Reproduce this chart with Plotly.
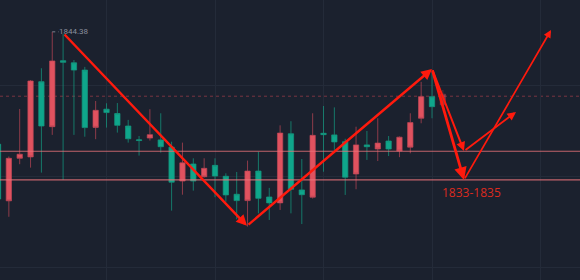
import plotly.graph_objects as go

# ---- candle data (index, OHLC) ----
idx = list(range(41))
opens = [1837.03, 1838.82, 1839.00, 1842.22, 1840.24, 1843.10, 1843.04, 1842.70, 1840.17, 1840.93,
         1840.83, 1840.27, 1839.68, 1839.60, 1839.86, 1839.33, 1837.77, 1838.62, 1837.82, 1838.38,
         1838.04, 1837.21, 1836.96, 1838.26, 1837.06, 1836.86, 1839.93, 1837.46, 1837.22, 1839.83,
         1839.86, 1839.54, 1837.99, 1839.41, 1839.33, 1839.49, 1839.23, 1839.75, 1840.39, 1841.53,
         1841.09]
highs = [1839.49, 1838.90, 1840.99, 1842.26, 1842.78, 1844.38, 1844.30, 1843.14, 1842.84, 1841.34,
         1841.24, 1841.25, 1840.51, 1839.80, 1840.98, 1840.80, 1839.55, 1839.51, 1838.82, 1838.82,
         1838.82, 1838.16, 1838.22, 1838.72, 1839.11, 1837.52, 1840.27, 1840.45, 1838.79, 1840.80,
         1841.12, 1841.06, 1839.68, 1840.21, 1840.02, 1840.58, 1839.80, 1839.78, 1840.80, 1842.18,
         1842.62]
lows = [1836.95, 1836.25, 1838.56, 1838.41, 1838.19, 1839.85, 1837.87, 1839.85, 1839.77, 1839.66,
        1840.17, 1839.95, 1839.51, 1838.94, 1839.60, 1839.07, 1836.52, 1837.22, 1837.40, 1837.97,
        1837.11, 1836.91, 1836.14, 1835.82, 1836.40, 1836.11, 1836.55, 1836.40, 1835.93, 1837.05,
        1838.23, 1839.19, 1837.21, 1837.46, 1838.75, 1838.70, 1838.92, 1838.87, 1839.04, 1840.36,
        1840.58]
closes = [1839.44, 1836.95, 1838.82, 1838.88, 1842.19, 1840.21, 1843.11, 1843.02, 1842.70, 1840.18,
          1840.98, 1840.79, 1840.24, 1839.63, 1839.71, 1839.63, 1839.31, 1837.82, 1838.57, 1838.01,
          1838.51, 1838.03, 1837.24, 1836.96, 1838.26, 1837.12, 1836.86, 1839.90, 1837.43, 1837.11,
          1839.92, 1839.85, 1839.55, 1838.13, 1839.41, 1839.23, 1839.58, 1839.14, 1839.31, 1840.58,
          1841.53]

# current (faded) candle
last_idx = [41]
last_open = [1841.64]
last_high = [1841.82]
last_low = [1841.03]
last_close = [1841.17]

# ---- levels ----
last_price = 1841.55
zone_levels = [1839.13, 1837.87]
high_label = "1844.38"
high_label_idx = 5
high_label_price = 1844.38

# ---- drawn arrows: (start idx, start price, end idx, end price, width) ----
arrow_x0 = [6.0, 22.95, 40.0, 40.0, 42.95, 42.95]
arrow_y0 = [1844.33, 1835.85, 1842.75, 1842.75, 1837.87, 1839.14]
arrow_x1 = [22.95, 40.0, 42.95, 42.95, 50.97, 47.74]
arrow_y1 = [1835.85, 1842.75, 1837.87, 1839.14, 1844.46, 1840.86]
arrow_w = [2.4, 2.4, 2.8, 2.0, 1.7, 1.9]

target_text = "1833-1835"
target_idx = 43.6
target_price = 1837.30

BG = "#1b212e"
GRID = "#242b39"
UP = "#0fa68b"
DOWN = "#e0525f"
UP_WICK = "rgba(20,150,125,0.75)"
DOWN_WICK = "rgba(190,70,85,0.7)"
ARROW = "#ff1a0d"

fig = go.Figure()
fig.add_trace(go.Candlestick(
    x=idx, open=opens, high=highs, low=lows, close=closes,
    increasing=dict(line=dict(color=UP_WICK, width=1), fillcolor=UP),
    decreasing=dict(line=dict(color=DOWN_WICK, width=1), fillcolor=DOWN),
    whiskerwidth=0, showlegend=False, hoverinfo="skip",
))
fig.add_trace(go.Candlestick(
    x=last_idx, open=last_open, high=last_high, low=last_low, close=last_close,
    increasing=dict(line=dict(color=UP_WICK, width=1), fillcolor=UP),
    decreasing=dict(line=dict(color=DOWN_WICK, width=1), fillcolor=DOWN),
    whiskerwidth=0, opacity=0.55, showlegend=False, hoverinfo="skip",
))

shapes = []
# last price dotted line
shapes.append(dict(type="line", xref="paper", x0=0, x1=1, yref="y", y0=last_price, y1=last_price,
                   line=dict(color="rgba(200,70,80,0.55)", width=1, dash="dot"), layer="below"))
for lv in zone_levels:
    shapes.append(dict(type="line", xref="paper", x0=0, x1=1, yref="y", y0=lv, y1=lv,
                       line=dict(color="rgba(235,115,122,0.8)", width=1.2), layer="above"))
# high marker dotted stub
shapes.append(dict(type="line", xref="x", x0=high_label_idx, x1=high_label_idx + 0.6,
                   yref="y", y0=high_label_price, y1=high_label_price,
                   line=dict(color="#7d8290", width=1, dash="dot")))

annotations = []
annotations.append(dict(x=high_label_idx + 0.62, y=high_label_price, xref="x", yref="y",
                        text=high_label, showarrow=False, xanchor="left", yanchor="middle",
                        xshift=-2, font=dict(family="Roboto", size=8, color="#8a8f9c")))
for x0, y0, x1, y1, w in zip(arrow_x0, arrow_y0, arrow_x1, arrow_y1, arrow_w):
    annotations.append(dict(x=x1, y=y1, ax=x0, ay=y0, xref="x", yref="y", axref="x", ayref="y",
                            text="", showarrow=True, arrowhead=2, arrowsize=0.9, arrowwidth=w,
                            arrowcolor=ARROW, standoff=0, startstandoff=0))
annotations.append(dict(x=target_idx, y=target_price, xref="x", yref="y", text=target_text,
                        showarrow=False, xanchor="center", yanchor="middle",
                        font=dict(family="Open Sans", size=12, color="#dc2a1e")))

fig.update_layout(
    width=580, height=280, margin=dict(l=0, r=0, t=0, b=0),
    paper_bgcolor=BG, plot_bgcolor=BG,
    shapes=shapes, annotations=annotations,
    xaxis=dict(range=[0.184, 53.64], showticklabels=False, showgrid=True, gridcolor=GRID,
               gridwidth=1, dtick=10, tick0=0, zeroline=False, rangeslider=dict(visible=False),
               fixedrange=True),
    yaxis=dict(range=[1833.47, 1845.78], showticklabels=False, showgrid=True, gridcolor=GRID,
               gridwidth=1, dtick=4, tick0=1834, zeroline=False, fixedrange=True),
    boxgap=0.3,
)

fig.write_html("out.html")
